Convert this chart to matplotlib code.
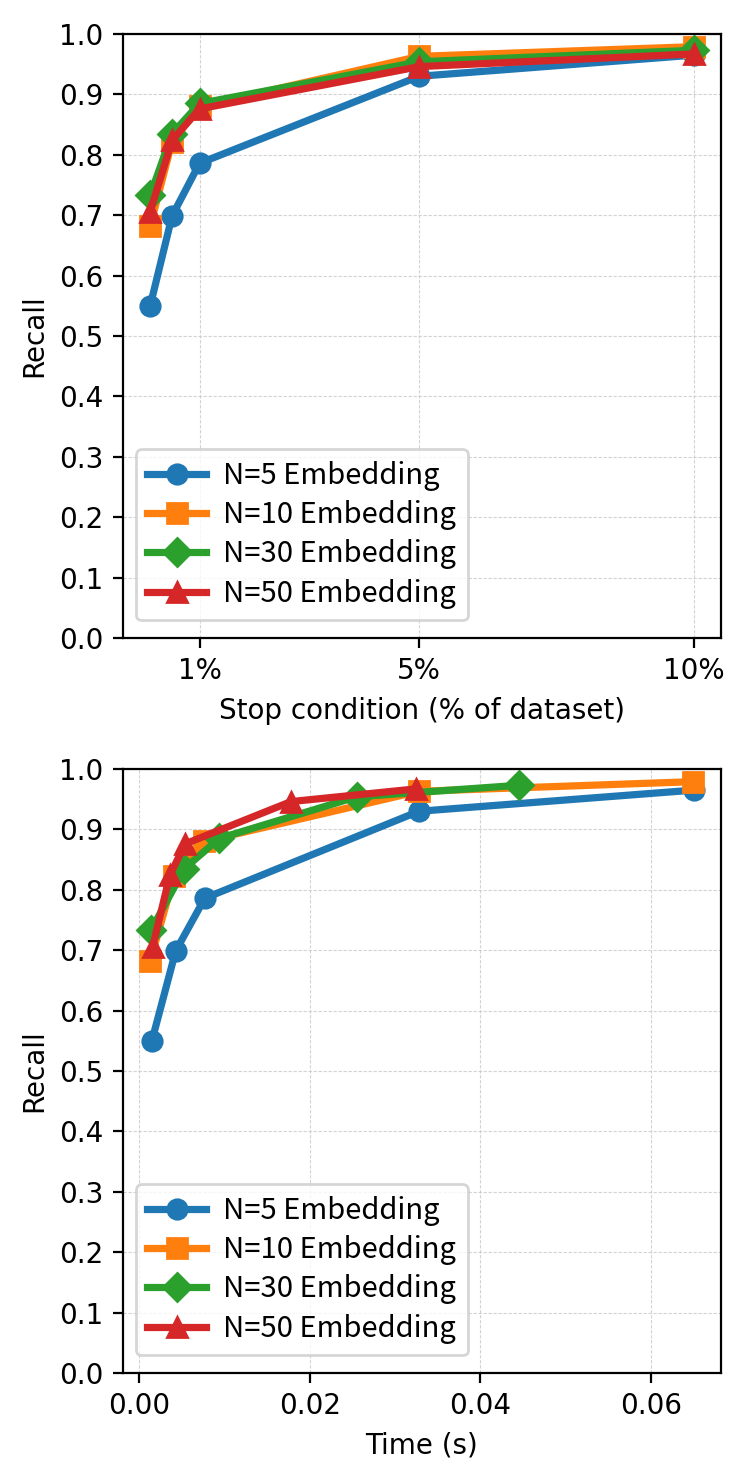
import matplotlib
matplotlib.use("Agg")
import matplotlib.pyplot as plt
from matplotlib.ticker import FixedLocator, FuncFormatter

# ---- data ----
stop_pct = [0.1, 0.5, 1, 5, 10]
labels = ["N=5 Embedding", "N=10 Embedding", "N=30 Embedding", "N=50 Embedding"]

recall_n5 = [0.550, 0.699, 0.786, 0.930, 0.965]
recall_n10 = [0.682, 0.822, 0.880, 0.963, 0.979]
recall_n30 = [0.733, 0.835, 0.885, 0.954, 0.973]
recall_n50 = [0.706, 0.824, 0.876, 0.946, 0.967]

time_n5 = [0.0015, 0.0043, 0.0077, 0.0328, 0.0650]
time_n10 = [0.0013, 0.0041, 0.0076, 0.0328, 0.0649]
time_n30 = [0.0014, 0.0053, 0.0094, 0.0255, 0.0445]
time_n50 = [0.0016, 0.0036, 0.0054, 0.0178, 0.0324]

x_ticks = [1, 5, 10]
time_ticks = [0.00, 0.02, 0.04, 0.06]
y_ticks = [0.0, 0.1, 0.2, 0.3, 0.4, 0.5, 0.6, 0.7, 0.8, 0.9, 1.0]

colors = ["#1f77b4", "#ff7f0e", "#2ca02c", "#d62728"]
markers = ["o", "s", "D", "^"]

recalls = [recall_n5, recall_n10, recall_n30, recall_n50]
times = [time_n5, time_n10, time_n30, time_n50]

fig = plt.figure(figsize=(3.75, 7.325), dpi=200)
ax1 = fig.add_axes([0.164, 0.5645, 0.7973, 0.4123])
ax2 = fig.add_axes([0.164, 0.0628, 0.7973, 0.4123])

legend_font = {"family": ["Noto Sans CJK TC", "DejaVu Sans"], "size": 10.5}

def style(ax):
    ax.set_ylim(0, 1.0)
    ax.set_yticks(y_ticks)
    ax.yaxis.set_major_formatter(FuncFormatter(lambda v, p: f"{v:.1f}"))
    ax.grid(True, color="#c8c8c8", linewidth=0.4, linestyle=(0, (3, 1.5)), alpha=0.8)
    ax.tick_params(labelsize=10)
    ax.set_ylabel("Recall", fontsize=10)
    ax.legend(loc="lower left", prop=legend_font, bbox_to_anchor=(-0.003, 0.005),
              handlelength=2.0, labelspacing=0.32, borderpad=0.4,
              handletextpad=0.6, framealpha=0.8)

for r, c, m, lab in zip(recalls, colors, markers, labels):
    ax1.plot(stop_pct, r, color=c, marker=m, linewidth=2.6, markersize=7, label=lab)
ax1.xaxis.set_major_locator(FixedLocator(x_ticks))
ax1.xaxis.set_major_formatter(FuncFormatter(lambda v, p: f"{int(v)}%"))
ax1.set_xlabel("Stop condition (% of dataset)", fontsize=10)
style(ax1)

for t, r, c, m, lab in zip(times, recalls, colors, markers, labels):
    ax2.plot(t, r, color=c, marker=m, linewidth=2.6, markersize=7, label=lab)
ax2.set_xticks(time_ticks)
ax2.xaxis.set_major_formatter(FuncFormatter(lambda v, p: f"{v:.2f}"))
ax2.set_xlabel("Time (s)", fontsize=10)
style(ax2)

fig.savefig("out.png", dpi=200)
